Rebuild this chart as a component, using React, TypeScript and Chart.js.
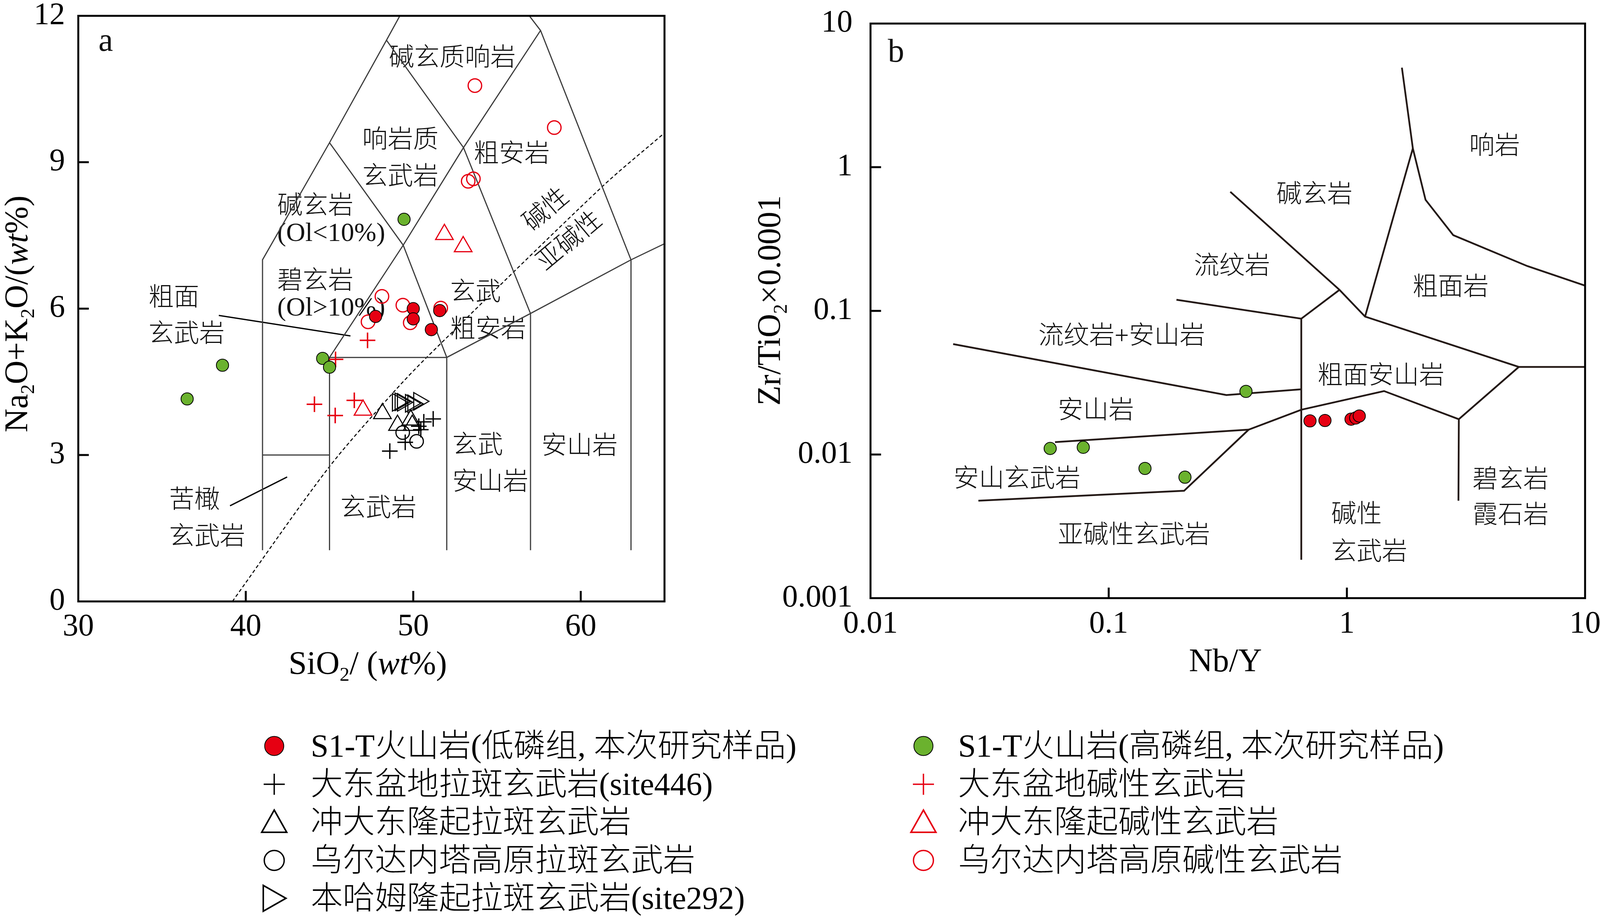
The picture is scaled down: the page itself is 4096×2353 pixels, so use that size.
import React, { useEffect, useRef } from 'react';
import { Chart, registerables } from 'chart.js';

Chart.register(...registerables);

const SERIF = '"Liberation Serif", "Times New Roman", serif';
const MIXED = '"Liberation Serif", "Noto Sans CJK SC", sans-serif';
const RED = '#E60012';
const GREEN = '#6BB22E';

// ================= Panel a : TAS =================
const tasXTicks = [30, 40, 50, 60];
const tasYTicks = [0, 3, 6, 9, 12];
const tasXMarks = [40, 50, 60];
const tasYMarks = [3, 6, 9];

// S1-T low-P group (filled red)
const lowPSiO2 = [50.0, 50.0, 51.58, 51.08, 47.75];
const lowPAlk = [6.0, 5.79, 5.96, 5.57, 5.84];
// S1-T high-P group (filled green)
const highPSiO2 = [49.45, 38.61, 36.5, 44.59, 45.0];
const highPAlk = [7.83, 4.84, 4.15, 4.98, 4.8];
// Urdaneta plateau alkaline basalt (open red circle)
const urdAlkSiO2 = [53.68, 58.42, 53.28, 53.59, 48.13, 49.38, 49.82, 51.64, 47.3];
const urdAlkAlk = [10.57, 9.71, 8.61, 8.66, 6.25, 6.07, 5.71, 6.01, 5.73];
// Oki-Daito rise alkaline basalt (open red triangle)
const okiAlkSiO2 = [51.86, 52.98, 47.0];
const okiAlkAlk = [7.52, 7.27, 3.92];
// Daito basin alkaline basalt (red plus)
const daitoAlkSiO2 = [47.27, 45.36, 44.1, 45.34, 46.48];
const daitoAlkAlk = [5.35, 4.96, 4.04, 3.81, 4.12];
// Daito basin tholeiite site446 (black plus)
const daitoThSiO2 = [48.6, 49.52, 51.19, 50.63, 50.45, 50.33];
const daitoThAlk = [3.08, 3.26, 3.74, 3.68, 3.52, 3.59];
// Oki-Daito rise tholeiite (black triangle)
const okiThSiO2 = [48.16, 49.06, 49.85, 49.94];
const okiThAlk = [3.85, 3.61, 3.72, 3.61];
// Urdaneta plateau tholeiite (black circle)
const urdThSiO2 = [49.37, 50.2];
const urdThAlk = [3.46, 3.28];
// Benham rise tholeiite site292 (black right triangle)
const benSiO2 = [49.06, 49.22, 49.36, 49.84, 49.98, 50.33];
const benAlk = [4.08, 4.09, 4.08, 4.06, 4.05, 4.1];

const tasBoundaries = [
  [[41, 1.05], [41, 7], [45, 9.4], [48.4, 11.5], [49.2, 12]],
  [[45, 1.05], [45, 5], [49.4, 7.3], [53, 9.3], [57.6, 11.7]],
  [[56.93, 12], [57.6, 11.7], [63, 7]],
  [[41, 3], [45, 3]],
  [[45, 5], [52, 5], [57, 5.9], [63, 7], [65, 7.33]],
  [[52, 1.05], [52, 5], [49.4, 7.3], [45, 9.4]],
  [[57, 1.05], [57, 5.9], [53, 9.3], [48.4, 11.5]],
  [[63, 1.05], [63, 7]],
];
const tasAlkalineDivide = [[39.2, 0], [44.9, 2.72], [48.7, 4.24], [50.8, 5.0], [61.25, 8.49], [65, 9.6]];
const tasLeaders = [
  [[38.39, 5.86], [46.25, 5.44]],
  [[39.06, 1.96], [42.47, 2.55]],
];
const tasLabels = [
  { t: '碱玄质响岩', x: 52.33, y: 11.12, a: 'c' },
  { t: '响岩质', x: 49.23, y: 9.435, a: 'c' },
  { t: '玄武岩', x: 49.23, y: 8.683, a: 'c' },
  { t: '粗安岩', x: 55.88, y: 9.145, a: 'c' },
  { t: '碱性', x: 57.98, y: 8.014, a: 'c', r: -40 },
  { t: '亚碱性', x: 59.37, y: 7.368, a: 'c', r: -40 },
  { t: '碱玄岩', x: 41.88, y: 8.081, a: 'l' },
  { t: '(Ol<10%)', x: 41.88, y: 7.529, a: 'l' },
  { t: '碧玄岩', x: 41.88, y: 6.548, a: 'l' },
  { t: '(Ol>10%)', x: 41.88, y: 5.998, a: 'l' },
  { t: '粗面', x: 34.19, y: 6.203, a: 'l' },
  { t: '玄武岩', x: 34.19, y: 5.455, a: 'l' },
  { t: '玄武', x: 52.2, y: 6.312, a: 'l' },
  { t: '粗安岩', x: 52.2, y: 5.557, a: 'l' },
  { t: '玄武', x: 52.33, y: 3.174, a: 'l' },
  { t: '安山岩', x: 52.33, y: 2.423, a: 'l' },
  { t: '安山岩', x: 59.93, y: 3.161, a: 'c' },
  { t: '玄武岩', x: 47.92, y: 1.888, a: 'c' },
  { t: '苦橄', x: 35.42, y: 2.053, a: 'l' },
  { t: '玄武岩', x: 35.42, y: 1.302, a: 'l' },
];
const tasLetter = { t: 'a', x: 31.64, y: 11.46 };

// ================= Panel b : Zr/TiO2 - Nb/Y =================
const wfXTicks = [0.01, 0.1, 1, 10];
const wfXTickLabels = ['0.01', '0.1', '1', '10'];
const wfYTicks = [0.001, 0.01, 0.1, 1, 10];
const wfYTickLabels = ['0.001', '0.01', '0.1', '1', '10'];
const wfXMarks = [0.1, 1];
const wfYMarks = [0.01, 0.1, 1];

const lowPNbY = [0.7, 0.809, 1.041, 1.089, 1.127];
const lowPZrTi = [0.01714, 0.01725, 0.01761, 0.01795, 0.01853];
const highPNbY = [0.0568, 0.0782, 0.142, 0.209, 0.377];
const highPZrTi = [0.01102, 0.01122, 0.008, 0.00695, 0.0275];

const wfBoundaries = [
  [[0.324, 0.674], [0.931, 0.14], [1.192, 0.0912], [5.27, 0.0407], [10, 0.0407]],
  [[1.702, 4.93], [1.892, 1.353], [2.139, 0.593], [2.796, 0.3365], [5.72, 0.205], [10, 0.1498]],
  [[1.892, 1.353], [1.192, 0.0912]],
  [[0.1925, 0.1195], [0.6435, 0.0882], [0.931, 0.14]],
  [[0.6435, 0.0882], [0.6435, 0.00185]],
  [[5.27, 0.0407], [2.951, 0.01761], [2.94, 0.00477]],
  [[2.951, 0.01761], [1.432, 0.02765], [0.6435, 0.0205], [0.387, 0.0149], [0.0595, 0.0122]],
  [[0.387, 0.0149], [0.2073, 0.00559], [0.02837, 0.00477]],
  [[0.02223, 0.0587], [0.312, 0.02595], [0.6435, 0.02843]],
];
const wfLabels = [
  { t: '响岩', x: 4.17, y: 1.378, a: 'c' },
  { t: '碱玄岩', x: 0.731, y: 0.635, a: 'c' },
  { t: '流纹岩', x: 0.3296, y: 0.2017, a: 'c' },
  { t: '粗面岩', x: 2.725, y: 0.1438, a: 'c' },
  { t: '流纹岩+安山岩', x: 0.1134, y: 0.0656, a: 'c' },
  { t: '粗面安山岩', x: 1.39, y: 0.0347, a: 'c' },
  { t: '安山岩', x: 0.0884, y: 0.01984, a: 'c' },
  { t: '安山玄武岩', x: 0.0412, y: 0.00663, a: 'c' },
  { t: '亚碱性玄武岩', x: 0.1276, y: 0.002707, a: 'c' },
  { t: '碱性', x: 0.859, y: 0.003762, a: 'l' },
  { t: '玄武岩', x: 0.859, y: 0.002067, a: 'l' },
  { t: '碧玄岩', x: 4.866, y: 0.006568, a: 'c' },
  { t: '霞石岩', x: 4.866, y: 0.003719, a: 'c' },
];
const wfLetter = { t: 'b', x: 0.01279, y: 6.23 };

// axis titles (rich segments)
const tasXTitle = [{ t: 'SiO' }, { t: '2', sub: true }, { t: '/ (' }, { t: 'wt', it: true }, { t: '%)' }];
const tasYTitle = [{ t: 'Na' }, { t: '2', sub: true }, { t: 'O+K' }, { t: '2', sub: true }, { t: 'O/(' }, { t: 'wt', it: true }, { t: '%)' }];
const wfXTitle = [{ t: 'Nb/Y' }];
const wfYTitle = [{ t: 'Zr/TiO' }, { t: '2', sub: true }, { t: '×0.0001' }];

// legend
const legendCol1 = [
  { label: 'S1-T火山岩(低磷组, 本次研究样品)', kind: 'dot', color: RED },
  { label: '大东盆地拉斑玄武岩(site446)', kind: 'plus', color: '#000' },
  { label: '冲大东隆起拉斑玄武岩', kind: 'tri', color: '#000' },
  { label: '乌尔达内塔高原拉斑玄武岩', kind: 'ring', color: '#000' },
  { label: '本哈姆隆起拉斑玄武岩(site292)', kind: 'rtri', color: '#000' },
];
const legendCol2 = [
  { label: 'S1-T火山岩(高磷组, 本次研究样品)', kind: 'dot', color: GREEN },
  { label: '大东盆地碱性玄武岩', kind: 'plus', color: RED },
  { label: '冲大东隆起碱性玄武岩', kind: 'tri', color: RED },
  { label: '乌尔达内塔高原碱性玄武岩', kind: 'ring', color: RED },
];

// ================= helpers =================
const zip = (xs: number[], ys: number[]) => xs.map((x, i) => ({ x, y: ys[i] }));
const pairs = (arr: number[][]) => arr.map(([x, y]) => ({ x, y }));

function drawRich(ctx: any, segs: any[], x: number, y: number, size: number, rotate: boolean) {
  ctx.save();
  ctx.translate(x, y);
  if (rotate) ctx.rotate(-Math.PI / 2);
  const parts = segs.map((s) => {
    const sz = s.sub ? size * 0.6 : size;
    const font = `${s.it ? 'italic ' : ''}${sz}px ${SERIF}`;
    ctx.font = font;
    return { s, font, w: ctx.measureText(s.t).width };
  });
  const total = parts.reduce((a, p) => a + p.w, 0);
  let cx = -total / 2;
  ctx.fillStyle = '#000';
  ctx.textAlign = 'left';
  ctx.textBaseline = 'alphabetic';
  for (const p of parts) {
    ctx.font = p.font;
    ctx.fillText(p.s.t, cx, p.s.sub ? size * 0.2 : 0);
    cx += p.w;
  }
  ctx.restore();
}

function decorPlugin(id: string, spec: any) {
  return {
    id,
    beforeDatasetsDraw(chart: any) {
      const ctx = chart.ctx;
      const xs = chart.scales.x;
      const ys = chart.scales.y;
      ctx.save();
      ctx.fillStyle = '#111';
      ctx.textBaseline = 'middle';
      for (const l of spec.labels) {
        const px = xs.getPixelForValue(l.x);
        const py = ys.getPixelForValue(l.y);
        const latin = /^[\x00-\x7F]+$/.test(l.t);
        ctx.font = latin ? `68px ${SERIF}` : `300 65px ${MIXED}`;
        ctx.textAlign = l.a === 'l' ? 'left' : 'center';
        if (l.r) {
          ctx.save();
          ctx.translate(px, py);
          ctx.rotate((l.r * Math.PI) / 180);
          ctx.fillText(l.t, 0, 0);
          ctx.restore();
        } else {
          ctx.fillText(l.t, px, py);
        }
      }
      const L = spec.letter;
      ctx.font = `84px ${SERIF}`;
      ctx.textAlign = 'center';
      ctx.fillText(L.t, xs.getPixelForValue(L.x), ys.getPixelForValue(L.y));
      ctx.restore();
    },
    afterDatasetsDraw(chart: any) {
      const ctx = chart.ctx;
      const a = chart.chartArea;
      const xs = chart.scales.x;
      const ys = chart.scales.y;
      ctx.save();
      ctx.strokeStyle = '#000';
      ctx.lineWidth = 5;
      ctx.strokeRect(a.left, a.top, a.right - a.left, a.bottom - a.top);
      ctx.beginPath();
      for (const v of spec.xMarks) {
        const px = xs.getPixelForValue(v);
        ctx.moveTo(px, a.bottom);
        ctx.lineTo(px, a.bottom - 27);
      }
      for (const v of spec.yMarks) {
        const py = ys.getPixelForValue(v);
        ctx.moveTo(a.left, py);
        ctx.lineTo(a.left + 27, py);
      }
      ctx.stroke();
      ctx.restore();
    },
    afterDraw(chart: any) {
      const ctx = chart.ctx;
      drawRich(ctx, spec.xTitle, spec.xTitlePos[0], spec.xTitlePos[1], 84, false);
      drawRich(ctx, spec.yTitle, spec.yTitlePos[0], spec.yTitlePos[1], 84, true);
    },
  };
}

function fixedAxis(size: number, isX: boolean) {
  return (s: any) => {
    if (isX) s.height = size;
    else s.width = size;
    s.paddingLeft = 0;
    s.paddingRight = 0;
    s.paddingTop = 0;
    s.paddingBottom = 0;
  };
}

const tickFont = { family: SERIF, size: 80 };

function pointSet(data: any[], style: string, radius: number, fill: string, stroke: string, bw: number, rot = 0) {
  return {
    data,
    showLine: false,
    pointStyle: style,
    pointRadius: radius,
    pointRotation: rot,
    pointBackgroundColor: fill,
    pointBorderColor: stroke,
    pointBorderWidth: bw,
  };
}

function lineSet(pts: number[][], color: string, width: number, dash: number[] = [], tension = 0) {
  return {
    data: pairs(pts),
    showLine: true,
    borderColor: color,
    borderWidth: width,
    borderDash: dash,
    pointRadius: 0,
    tension,
    fill: false,
  };
}

function configA() {
  const datasets: any[] = [
    pointSet(zip(lowPSiO2, lowPAlk), 'circle', 15.7, RED, '#000', 2),
    pointSet(zip(highPSiO2, highPAlk), 'circle', 15.7, GREEN, '#000', 2),
    pointSet(zip(urdAlkSiO2, urdAlkAlk), 'circle', 17.3, 'rgba(0,0,0,0)', RED, 3.2),
    pointSet(zip(okiAlkSiO2, okiAlkAlk), 'triangle', 26, 'rgba(0,0,0,0)', RED, 3),
    pointSet(zip(daitoAlkSiO2, daitoAlkAlk), 'cross', 20, RED, RED, 3.8),
    pointSet(zip(daitoThSiO2, daitoThAlk), 'cross', 20, '#000', '#000', 3.4),
    pointSet(zip(okiThSiO2, okiThAlk), 'triangle', 26, 'rgba(0,0,0,0)', '#000', 2.8),
    pointSet(zip(urdThSiO2, urdThAlk), 'circle', 17.3, 'rgba(0,0,0,0)', '#000', 3),
    pointSet(zip(benSiO2, benAlk), 'triangle', 26, 'rgba(0,0,0,0)', '#000', 2.8, 90),
    ...tasBoundaries.map((b) => lineSet(b, '#3d3d3d', 3)),
    lineSet(tasAlkalineDivide, '#000', 2.6, [9, 6], 0.3),
    ...tasLeaders.map((b) => lineSet(b, '#000', 3.2)),
  ];
  return {
    type: 'scatter',
    data: { datasets },
    options: {
      responsive: false,
      animation: false,
      events: [],
      layout: { padding: { left: 0, top: 40.5, right: 58.9, bottom: 0 } },
      plugins: { legend: { display: false }, tooltip: { enabled: false } },
      scales: {
        x: {
          type: 'linear',
          position: 'bottom',
          min: 30,
          max: 65,
          grid: { display: false, drawTicks: false },
          border: { display: false },
          afterBuildTicks: (s: any) => {
            s.ticks = tasXTicks.map((v) => ({ value: v }));
          },
          afterFit: fixedAxis(260.1, true),
          ticks: {
            font: tickFont,
            color: '#000',
            padding: 18,
            autoSkip: false,
            maxRotation: 0,
            minRotation: 0,
            callback: (_v: any, i: number) => String(tasXTicks[i]),
          },
        },
        y: {
          type: 'linear',
          position: 'left',
          min: 0,
          max: 12,
          grid: { display: false, drawTicks: false },
          border: { display: false },
          afterBuildTicks: (s: any) => {
            s.ticks = tasYTicks.map((v) => ({ value: v }));
          },
          afterFit: fixedAxis(200.4, false),
          ticks: {
            font: tickFont,
            color: '#000',
            padding: 34,
            autoSkip: false,
            callback: (_v: any, i: number) => String(tasYTicks[i]),
          },
        },
      },
    },
    plugins: [
      decorPlugin('decorA', {
        labels: tasLabels,
        letter: tasLetter,
        xMarks: tasXMarks,
        yMarks: tasYMarks,
        xTitle: tasXTitle,
        xTitlePos: [941.5, 1726],
        yTitle: tasYTitle,
        yTitlePos: [70, 803.8],
      }),
    ],
  };
}

function configB() {
  const datasets: any[] = [
    pointSet(zip(lowPNbY, lowPZrTi), 'circle', 15.7, RED, '#000', 2),
    pointSet(zip(highPNbY, highPZrTi), 'circle', 15.7, GREEN, '#000', 2),
    ...wfBoundaries.map((b) => lineSet(b, '#231815', 4.5)),
  ];
  return {
    type: 'scatter',
    data: { datasets },
    options: {
      responsive: false,
      animation: false,
      events: [],
      layout: { padding: { left: 0, top: 60.3, right: 38.2, bottom: 0 } },
      plugins: { legend: { display: false }, tooltip: { enabled: false } },
      scales: {
        x: {
          type: 'logarithmic',
          position: 'bottom',
          min: 0.01,
          max: 10,
          grid: { display: false, drawTicks: false },
          border: { display: false },
          afterBuildTicks: (s: any) => {
            s.ticks = wfXTicks.map((v) => ({ value: v }));
          },
          afterFit: fixedAxis(268.5, true),
          ticks: {
            font: tickFont,
            color: '#000',
            padding: 19,
            autoSkip: false,
            maxRotation: 0,
            minRotation: 0,
            callback: (_v: any, i: number) => wfXTickLabels[i],
          },
        },
        y: {
          type: 'logarithmic',
          position: 'left',
          min: 0.001,
          max: 10,
          grid: { display: false, drawTicks: false },
          border: { display: false },
          afterBuildTicks: (s: any) => {
            s.ticks = wfYTicks.map((v) => ({ value: v }));
          },
          afterFit: fixedAxis(448.5, false),
          ticks: {
            font: tickFont,
            color: '#000',
            padding: 46,
            autoSkip: false,
            callback: (_v: any, i: number) => wfYTickLabels[i],
          },
        },
      },
    },
    plugins: [
      decorPlugin('decorB', {
        labels: wfLabels,
        letter: wfLetter,
        xMarks: wfXMarks,
        yMarks: wfYMarks,
        xTitle: wfXTitle,
        xTitlePos: [1357, 1719],
        yTitle: wfYTitle,
        yTitlePos: [217.3, 769.3],
      }),
    ],
  };
}

function Marker({ kind, color, cx, cy }: any) {
  const S = 90;
  const c = S / 2;
  let shape: any = null;
  if (kind === 'dot') {
    shape = <circle cx={c} cy={c} r={24.5} fill={color} stroke="#000" strokeWidth={2} />;
  } else if (kind === 'plus') {
    shape = (
      <g stroke={color} strokeWidth={3.5}>
        <line x1={c - 27} y1={c} x2={c + 27} y2={c} />
        <line x1={c} y1={c - 27} x2={c} y2={c + 27} />
      </g>
    );
  } else if (kind === 'tri') {
    shape = (
      <polygon
        points={`${c},${c - 31} ${c + 32},${c + 26} ${c - 32},${c + 26}`}
        fill="none"
        stroke={color}
        strokeWidth={4}
        strokeLinejoin="miter"
      />
    );
  } else if (kind === 'ring') {
    shape = <circle cx={c} cy={c} r={25.5} fill="none" stroke={color} strokeWidth={3.5} />;
  } else if (kind === 'rtri') {
    shape = (
      <polygon
        points={`${c - 28},${c - 33} ${c + 30},${c} ${c - 28},${c + 33}`}
        fill="none"
        stroke={color}
        strokeWidth={4}
      />
    );
  }
  return (
    <svg
      width={S}
      height={S}
      style={{ position: 'absolute', left: cx - c, top: cy - c, overflow: 'visible' }}
    >
      {shape}
    </svg>
  );
}

const legendRowY = (i: number) => 1910 + i * 97.5;

function LegendColumn({ items, markerX, textX }: any) {
  return (
    <>
      {items.map((it: any, i: number) => (
        <React.Fragment key={i}>
          <Marker kind={it.kind} color={it.color} cx={markerX} cy={legendRowY(i)} />
          <div
            style={{
              position: 'absolute',
              left: textX,
              top: legendRowY(i) - 50,
              height: 100,
              lineHeight: '100px',
              fontSize: 82,
              fontFamily: MIXED,
              fontWeight: 300,
              whiteSpace: 'nowrap',
              color: '#000',
            }}
          >
            {it.label}
          </div>
        </React.Fragment>
      ))}
    </>
  );
}

export default function App() {
  const refA = useRef<HTMLCanvasElement>(null);
  const refB = useRef<HTMLCanvasElement>(null);

  useEffect(() => {
    const chartA = new Chart(refA.current as any, configA() as any);
    const chartB = new Chart(refB.current as any, configB() as any);
    return () => {
      chartA.destroy();
      chartB.destroy();
    };
  }, []);

  return (
    <div
      style={{
        position: 'fixed',
        left: 0,
        top: 0,
        width: 4096,
        height: 2353,
        background: '#fff',
        overflow: 'hidden',
      }}
    >
      <canvas
        ref={refA}
        width={1760}
        height={1800}
        style={{ position: 'absolute', left: 0, top: 0, width: 1760, height: 1800 }}
      />
      <canvas
        ref={refB}
        width={2316}
        height={1800}
        style={{ position: 'absolute', left: 1780, top: 0, width: 2316, height: 1800 }}
      />
      <LegendColumn items={legendCol1} markerX={702.4} textX={795.4} />
      <LegendColumn items={legendCol2} markerX={2364.4} textX={2452.7} />
    </div>
  );
}
